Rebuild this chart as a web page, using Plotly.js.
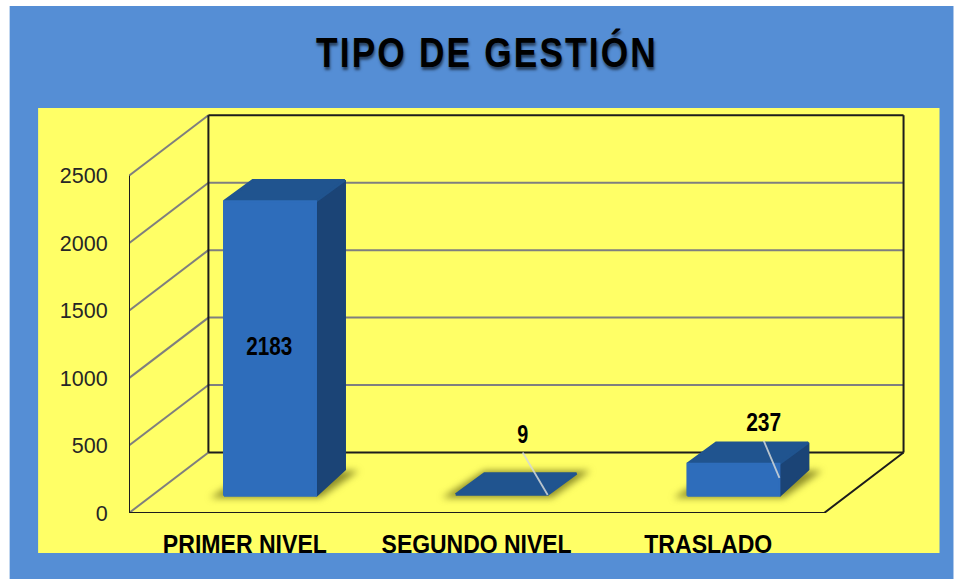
<!DOCTYPE html>
<html>
<head>
<meta charset="utf-8">
<script src="https://cdn.plot.ly/plotly-3.0.1.min.js"></script>
<style>
html,body{margin:0;padding:0;background:#fff;overflow:hidden}
#chart{width:954px;height:579px}
.gtitle{letter-spacing:2.6px}
</style>
</head>
<body>
<div id="chart"></div>
<script>
// Data
const categories = ['PRIMER NIVEL', 'SEGUNDO NIVEL', 'TRASLADO'];
const values = [2183, 9, 237];
const yTicks = [0, 500, 1000, 1500, 2000, 2500];
const titleText = 'TIPO DE GESTIÓN';

// Oblique projection, in axis units
const wallDX = 0.3427, wallDY = 448.5;
const barOffset = 0.41, barWidth = 0.397, barFloor = 128, barDX = 0.124, barTopDY = 155, barBaseDY = 195;
const labelDX = [0.195, 0.289, 0.329];
const labelDY = [-1092, 427, 286];
const leaderRise = [0, 115, 115];
const hasLeader = [false, true, true];

// Text widths on the page (the reference type is condensed)
const categoryWidths = [164, 190, 128];
const labelWidths = [46, 11, 35];
const titleWidth = 342;

// Page frame
const M = {l: 128.5, r: 13.5, t: 108, b: 66};
const plotW = 954 - M.l - M.r, plotH = 579 - M.t - M.b;
const xMax = plotW / 232, yMax = plotH / 0.1349;
const px = p => (p - M.l) / plotW;
const py = p => (M.t + plotH - p) / plotH;
const BLUE = '#558ED5', YELLOW = '#FFFF66';
const GRID = '#7F7F7F', EDGE = '#1c1c1c';
const FRONT = '#2E6DBB', SIDE = '#1B4476', TOPFACE = '#20548F';
const FONT = '"Liberation Sans", Arial, sans-serif';

const traces = [];
function line(x, y, color, width) {
  traces.push({type: 'scatter', mode: 'lines', x, y, hoverinfo: 'skip', cliponaxis: false,
    line: {color, width, simplify: false}});
}
function poly(x, y, color, edge, edgeWidth) {
  traces.push({type: 'scatter', mode: 'lines', x: x.concat(x[0]), y: y.concat(y[0]), fill: 'toself',
    fillcolor: color, hoverinfo: 'skip', cliponaxis: false,
    line: {color: edge || color, width: edge === 'none' ? 0 : (edgeWidth || 1.5)}});
}

// Wall grid lines
yTicks.forEach(v => {
  line([0, wallDX], [v, v + wallDY], GRID, 2);
  if (v > 0 && v < 2500) line([wallDX, 3 + wallDX], [v + wallDY, v + wallDY], GRID, 2);
});
// Frame
const wallTop = 2500 + wallDY;
line([0, 0], [0, 2500], EDGE, 2);
line([wallDX, wallDX], [wallDY, wallTop], EDGE, 2);
line([3 + wallDX, 3 + wallDX], [wallDY, wallTop], EDGE, 2);
line([wallDX, 3 + wallDX], [wallTop, wallTop], EDGE, 2);
line([wallDX, 3 + wallDX], [wallDY, wallDY], EDGE, 2);
line([0, 3, 3 + wallDX], [0, 0, wallDY], EDGE, 2);

// Floor shadows (blurred after drawing)
const shadowStart = traces.length;
values.forEach((v, i) => {
  const L = i + barOffset, R = L + barWidth, s = 0.06;
  poly([L - s, R + s * 0.3, R + barDX + s, L + barDX],
       [barFloor - 15, barFloor - 15, barFloor + barBaseDY - 10, barFloor + barBaseDY - 10],
       'rgba(95,95,15,0.7)', 'none');
});
const shadowEnd = traces.length;

// Bars
values.forEach((v, i) => {
  const L = i + barOffset, R = L + barWidth, B = barFloor, T = barFloor + v;
  if (v > 50) poly([R, R + barDX, R + barDX, R], [B, B + barBaseDY, T + barTopDY, T], SIDE, SIDE, 2.5);
  poly([L, R, R + barDX, L + barDX], [T, T, T + barTopDY, T + barTopDY], TOPFACE, TOPFACE, 2.5);
  if (v > 50) poly([L, R, R, L], [B, B, T, T], FRONT, FRONT, 2);
});

// Leader lines
values.forEach((v, i) => {
  if (!hasLeader[i]) return;
  const L = i + barOffset, T = barFloor + v;
  line([L + labelDX[i], L + barWidth], [T + labelDY[i] - leaderRise[i], barFloor + v * 0.56], 'rgba(212,216,216,0.85)', 1.8);
});

// Data labels
traces.push({type: 'scatter', mode: 'text', cliponaxis: false, hoverinfo: 'skip',
  x: values.map((v, i) => i + barOffset + labelDX[i]),
  y: values.map((v, i) => barFloor + v + labelDY[i]),
  text: values.map(String), textposition: 'middle center',
  textfont: {family: FONT, size: 25, color: '#000', weight: 700}});

const layout = {
  width: 954, height: 579, showlegend: false,
  margin: {l: M.l, r: M.r, t: M.t, b: M.b, pad: 0},
  paper_bgcolor: '#fff', plot_bgcolor: 'rgba(0,0,0,0)',
  title: {text: titleText, x: 487 / 954, xref: 'container', xanchor: 'center',
    y: 1 - 52 / 579, yref: 'container', yanchor: 'middle',
    font: {family: FONT, size: 42, color: '#000', weight: 700,
      shadow: '1px 3px 3px rgba(0,0,0,0.55)'}},
  xaxis: {range: [0, xMax], showgrid: false, zeroline: false, showline: false,
    tickmode: 'array', tickvals: categories.map((c, i) => i + 0.5), ticktext: categories,
    ticks: 'outside', ticklen: 9, tickcolor: 'rgba(0,0,0,0)',
    tickfont: {family: FONT, size: 25, color: '#000', weight: 700}},
  yaxis: {range: [0, yMax], showgrid: false, zeroline: false, showline: false,
    tickmode: 'array', tickvals: yTicks, ticktext: yTicks.map(String),
    ticks: 'outside', ticklen: 16, tickcolor: 'rgba(0,0,0,0)',
    tickfont: {family: FONT, size: 21.5, color: '#262626'}},
  shapes: [
    {type: 'rect', layer: 'below', xref: 'paper', yref: 'paper', x0: px(9), x1: px(954), y0: py(6), y1: py(579),
      fillcolor: BLUE, line: {width: 0}},
    {type: 'rect', layer: 'below', xref: 'paper', yref: 'paper', x0: px(37.5), x1: px(940), y0: py(108), y1: py(553),
      fillcolor: YELLOW, line: {width: 0}}
  ]
};

function condense(node, width) {
  if (!node) return;
  node.setAttribute('textLength', width);
  node.setAttribute('lengthAdjust', 'spacingAndGlyphs');
}

Plotly.newPlot('chart', traces, layout, {displayModeBar: false, staticPlot: true}).then(() => {
  const root = document.getElementById('chart');
  const groups = root.querySelectorAll('.scatterlayer .trace');
  for (let i = shadowStart; i < shadowEnd; i++) {
    if (groups[i]) groups[i].style.filter = 'blur(3.5px)';
  }
  condense(root.querySelector('.gtitle'), titleWidth);
  root.querySelectorAll('.xtick text').forEach((t, i) => condense(t, categoryWidths[i]));
  root.querySelectorAll('.scatterlayer .textpoint text').forEach((t, i) => condense(t, labelWidths[i]));
});
</script>
</body>
</html>
